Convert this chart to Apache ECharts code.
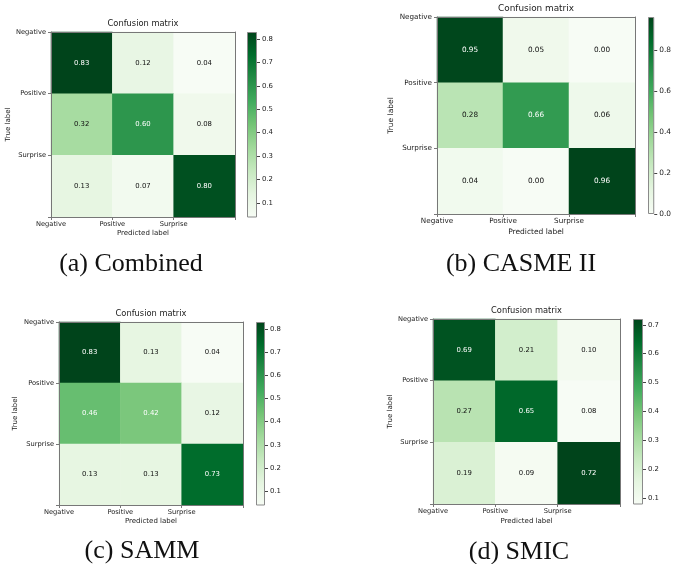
<!DOCTYPE html>
<html>
<head>
<meta charset="utf-8">
<script src="https://cdn.jsdelivr.net/npm/echarts@6/dist/echarts.min.js"></script>
<style>
  html, body { margin: 0; padding: 0; background: #fff; }
  #chart { width: 674px; height: 564px; }
</style>
</head>
<body>
<div id="chart"></div>
<script>
// Class names shared by all four confusion matrices
const classNames = ['Negative', 'Positive', 'Surprise'];

// Normalised confusion matrices (rows: true label, columns: predicted label)
const combinedMatrix = [
  [0.83, 0.12, 0.04],
  [0.32, 0.60, 0.08],
  [0.13, 0.07, 0.80]
];
const casme2Matrix = [
  [0.95, 0.05, 0.00],
  [0.28, 0.66, 0.06],
  [0.04, 0.00, 0.96]
];
const sammMatrix = [
  [0.83, 0.13, 0.04],
  [0.46, 0.42, 0.12],
  [0.13, 0.13, 0.73]
];
const smicMatrix = [
  [0.69, 0.21, 0.10],
  [0.27, 0.65, 0.08],
  [0.19, 0.09, 0.72]
];

// Colour bar tick values
const combinedTicks = [0.1, 0.2, 0.3, 0.4, 0.5, 0.6, 0.7, 0.8];
const casme2Ticks = [0.0, 0.2, 0.4, 0.6, 0.8];
const sammTicks = [0.1, 0.2, 0.3, 0.4, 0.5, 0.6, 0.7, 0.8];
const smicTicks = [0.1, 0.2, 0.3, 0.4, 0.5, 0.6, 0.7];

// Sub-figure captions
const captions = ['(a) Combined', '(b) CASME II', '(c) SAMM', '(d) SMIC'];

// matplotlib "Greens" colormap stops, light to dark
const GREENS = ['#f7fcf5', '#e5f5e0', '#c7e9c0', '#a1d99b', '#74c476',
                '#41ab5d', '#238b45', '#006d2c', '#00441b'];

const SANS = 'DejaVu Sans';
const TEXT = '#1a1a1a';
const SPINE = '#777';

// Layout of each sub-figure
const panels = [
  { matrix: combinedMatrix, ticks: combinedTicks, caption: captions[0],
    heat: { left: 51, top: 32, width: 184, height: 185 },
    cbar: { left: 247, top: 32, width: 10, height: 185 },
    fs: 6.7, cellFs: 6.9, titleFs: 8.3, yNameGap: 39, xNameGap: 12.5,
    captionX: 131, captionY: 264 },
  { matrix: casme2Matrix, ticks: casme2Ticks, caption: captions[1],
    heat: { left: 437, top: 17, width: 198, height: 197 },
    cbar: { left: 648, top: 17, width: 11, height: 197 },
    fs: 7.2, cellFs: 7.3, titleFs: 8.9, yNameGap: 42, xNameGap: 14,
    captionX: 521, captionY: 264 },
  { matrix: sammMatrix, ticks: sammTicks, caption: captions[2],
    heat: { left: 59, top: 322, width: 184, height: 183 },
    cbar: { left: 256, top: 322, width: 9, height: 183 },
    fs: 6.7, cellFs: 6.9, titleFs: 8.3, yNameGap: 40, xNameGap: 13,
    captionX: 142, captionY: 551 },
  { matrix: smicMatrix, ticks: smicTicks, caption: captions[3],
    heat: { left: 433, top: 319, width: 187, height: 185 },
    cbar: { left: 633, top: 319, width: 10, height: 185 },
    fs: 6.7, cellFs: 6.9, titleFs: 8.3, yNameGap: 39, xNameGap: 14,
    captionX: 519, captionY: 552 }
];

const grid = [], xAxis = [], yAxis = [], series = [], visualMap = [], graphic = [];

panels.forEach((p) => {
  const flat = p.matrix.flat();
  const vmin = Math.min(...flat);
  const vmax = Math.max(...flat);
  const thresh = vmax / 2;

  const heatGrid = grid.length;
  grid.push(Object.assign({ containLabel: false }, p.heat));
  const barGrid = grid.length;
  grid.push(Object.assign({ containLabel: false }, p.cbar));

  // category axes carrying the heatmap cells (also draw top / right spines)
  const catX = xAxis.length;
  xAxis.push({
    type: 'category', gridIndex: heatGrid, data: classNames, position: 'top', z: 10,
    axisLine: { show: true, onZero: false, lineStyle: { color: SPINE, width: 1 } },
    axisTick: { show: false }, axisLabel: { show: false }
  });
  const catY = yAxis.length;
  yAxis.push({
    type: 'category', gridIndex: heatGrid, data: classNames, inverse: true, position: 'right', z: 10,
    axisLine: { show: true, onZero: false, lineStyle: { color: SPINE, width: 1 } },
    axisTick: { show: false }, axisLabel: { show: false }
  });

  // value axes with ticks on the cell edges, as matplotlib draws them
  xAxis.push({
    type: 'value', gridIndex: heatGrid, min: 0, max: 3, interval: 1, position: 'bottom', z: 10,
    name: 'Predicted label', nameLocation: 'middle', nameGap: p.xNameGap,
    nameTextStyle: { fontFamily: SANS, fontSize: p.fs + 0.3, color: TEXT },
    axisLine: { show: true, onZero: false, lineStyle: { color: SPINE, width: 1 } },
    axisTick: { show: true, inside: false, length: 3, lineStyle: { color: SPINE } },
    axisLabel: { margin: 4, fontFamily: SANS, fontSize: p.fs, color: TEXT,
                 formatter: v => classNames[Math.round(v)] || '' },
    splitLine: { show: false }
  });
  yAxis.push({
    type: 'value', gridIndex: heatGrid, min: 0, max: 3, interval: 1, inverse: true, position: 'left', z: 10,
    name: 'True label', nameLocation: 'middle', nameGap: p.yNameGap,
    nameTextStyle: { fontFamily: SANS, fontSize: p.fs + 0.3, color: TEXT },
    axisLine: { show: true, onZero: false, lineStyle: { color: SPINE, width: 1 } },
    axisTick: { show: true, inside: false, length: 3, lineStyle: { color: SPINE } },
    axisLabel: { margin: 5, fontFamily: SANS, fontSize: p.fs, color: TEXT,
                 formatter: v => classNames[Math.round(v)] || '' },
    splitLine: { show: false }
  });

  // colour bar axes
  const barX = xAxis.length;
  xAxis.push({ type: 'category', gridIndex: barGrid, data: [''], show: false });
  const barY = yAxis.length;
  yAxis.push({
    type: 'value', gridIndex: barGrid, min: vmin, max: vmax, position: 'right', z: 10,
    axisLine: { show: false },
    axisTick: { show: true, inside: false, length: 3, lineStyle: { color: '#444' }, customValues: p.ticks },
    axisLabel: { margin: 5, fontFamily: SANS, fontSize: p.fs + 0.2, color: TEXT,
                 customValues: p.ticks, formatter: v => v.toFixed(1) },
    splitLine: { show: false }
  });

  const heatIndex = series.length;
  series.push({
    type: 'heatmap', xAxisIndex: catX, yAxisIndex: catY, silent: true,
    data: p.matrix.flatMap((row, i) => row.map((v, j) => ({
      value: [j, i, v],
      label: { color: v > thresh ? '#ffffff' : '#111111' }
    }))),
    label: { show: true, fontFamily: SANS, fontSize: p.cellFs,
             formatter: prm => prm.value[2].toFixed(2) },
    itemStyle: { borderWidth: 0 },
    emphasis: { disabled: true }
  });
  visualMap.push({
    type: 'continuous', show: false, seriesIndex: heatIndex, dimension: 2,
    min: vmin, max: vmax, inRange: { color: GREENS }
  });

  series.push({
    type: 'bar', xAxisIndex: barX, yAxisIndex: barY, silent: true, barWidth: '100%',
    data: [vmax],
    itemStyle: {
      borderColor: '#8a8a8a', borderWidth: 1,
      color: {
        type: 'linear', x: 0, y: 0, x2: 0, y2: 1,
        colorStops: GREENS.slice().reverse().map((c, i, a) => ({ offset: i / (a.length - 1), color: c }))
      }
    }
  });

  graphic.push({
    type: 'text', silent: true,
    x: p.heat.left + p.heat.width / 2, y: p.heat.top - 8,
    style: { text: 'Confusion matrix', fontFamily: SANS, fontSize: p.titleFs, fill: TEXT,
             align: 'center', verticalAlign: 'middle' }
  });
  graphic.push({
    type: 'text', silent: true,
    x: p.captionX, y: p.captionY,
    style: { text: p.caption, fontFamily: 'Liberation Serif', fontSize: 26, fill: '#111',
             align: 'center', verticalAlign: 'middle' }
  });
});

const chart = echarts.init(document.getElementById('chart'), null, { renderer: 'canvas' });
chart.setOption({
  animation: false,
  backgroundColor: '#ffffff',
  grid, xAxis, yAxis, series, visualMap, graphic
});
</script>
</body>
</html>
